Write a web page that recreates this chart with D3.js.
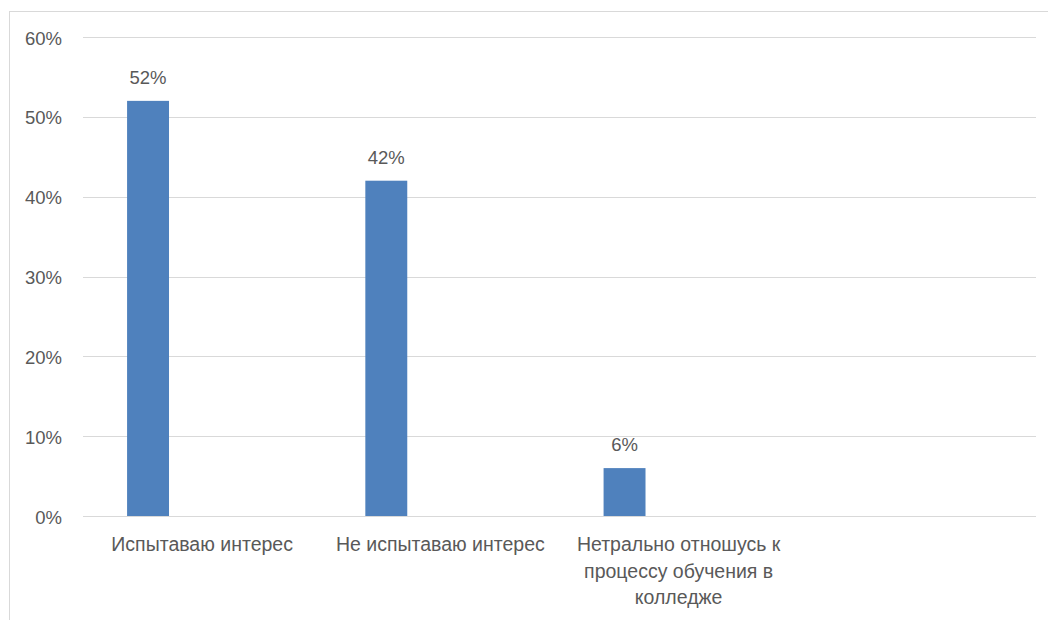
<!DOCTYPE html>
<html>
<head>
<meta charset="utf-8">
<script src="https://cdn.jsdelivr.net/npm/d3@7"></script>
<style>
  html, body { margin: 0; padding: 0; background: #fff; }
  svg { display: block; }
  text { font-family: "Liberation Sans", Arial, sans-serif; fill: #595959; }
</style>
</head>
<body>
<svg id="chart" width="1048" height="620"></svg>
<script>
const categories = ["Испытаваю интерес", "Не испытаваю интерес", "Нетрально отношусь к процессу обучения в колледже", ""];
const values = [0.52, 0.42, 0.06, null];
const dataLabels = ["52%", "42%", "6%", ""];
const yTicks = [0, 0.1, 0.2, 0.3, 0.4, 0.5, 0.6];

const svg = d3.select("#chart");
const margin = { left: 83, right: 12, top: 37, bottom: 104 };
const W = 1048, H = 620;
const FS = 18.5;
const FSCAT = 19.5;

// chart-area border (left & top visible)
svg.append("line").attr("x1", 9.5).attr("x2", 9.5).attr("y1", 11).attr("y2", H).attr("stroke", "#d9d9d9");
svg.append("line").attr("x1", 9).attr("x2", W).attr("y1", 11.5).attr("y2", 11.5).attr("stroke", "#d9d9d9");
// cut-off title fragment at top
svg.append("text").attr("x", 67).attr("y", -9).attr("font-size", 18).style("fill", "#000").text("у");

const x = d3.scaleBand().domain(d3.range(categories.length)).range([margin.left, W - margin.right]).padding(0);
const y = d3.scaleLinear().domain([0, 0.6]).range([H - margin.bottom, margin.top]);

// gridlines
svg.append("g").selectAll("line").data(yTicks).join("line")
  .attr("x1", margin.left).attr("x2", W - margin.right)
  .attr("y1", d => Math.round(y(d)) + 0.5).attr("y2", d => Math.round(y(d)) + 0.5)
  .attr("stroke", "#d9d9d9").attr("stroke-width", 1);

// y axis labels
const yAxis = d3.axisLeft(y).tickValues(yTicks).tickFormat(d3.format(".0%")).tickSize(0).tickPadding(21);
const gy = svg.append("g").attr("transform", `translate(${margin.left},0)`).call(yAxis);
gy.select(".domain").remove();
gy.selectAll("text").attr("font-size", FS).attr("dy", 7).style("fill", "#595959")
  .style("font-family", "'Liberation Sans', Arial, sans-serif");

// bars
const bw = x.bandwidth();
const barData = values.map((v, i) => ({ v, i })).filter(d => d.v !== null);
svg.append("g").selectAll("rect").data(barData).join("rect")
  .attr("x", d => x(d.i) + bw * 0.185)
  .attr("width", bw * 0.176)
  .attr("y", d => y(d.v))
  .attr("height", d => y(0) - y(d.v))
  .attr("fill", "#4f81bd");

// data labels
svg.append("g").selectAll("text").data(barData).join("text")
  .attr("x", d => x(d.i) + bw * 0.185 + bw * 0.088)
  .attr("y", d => y(d.v) - 17)
  .attr("text-anchor", "middle")
  .attr("font-size", FS)
  .text(d => dataLabels[d.i]);

// category labels with wrapping
const gx = svg.append("g");
categories.forEach((c, i) => {
  if (!c) return;
  const t = gx.append("text")
    .attr("x", x(i) + bw / 2).attr("y", 551)
    .attr("text-anchor", "middle").attr("font-size", FSCAT);
  const words = c.split(" ");
  let line = [];
  let tspan = t.append("tspan").attr("x", x(i) + bw / 2).attr("dy", 0);
  words.forEach(w => {
    line.push(w);
    tspan.text(line.join(" "));
    if (tspan.node().getComputedTextLength() > 232 && line.length > 1) {
      line.pop();
      tspan.text(line.join(" "));
      line = [w];
      tspan = t.append("tspan").attr("x", x(i) + bw / 2).attr("dy", 26.5).text(w);
    }
  });
});
</script>
</body>
</html>
